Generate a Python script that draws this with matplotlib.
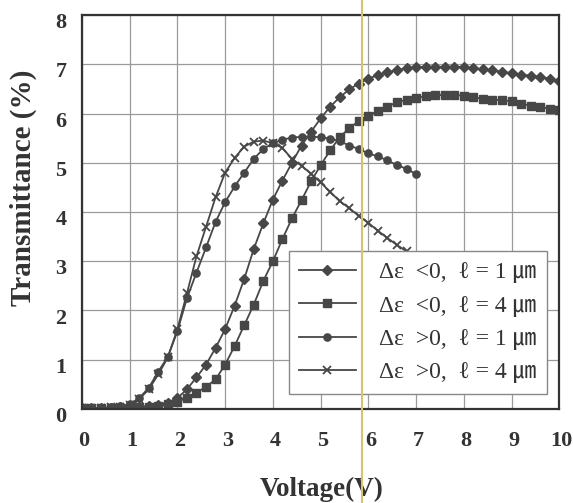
import matplotlib
matplotlib.use("Agg")
import matplotlib.pyplot as plt
from matplotlib.lines import Line2D
import matplotlib.transforms as mtransforms

plt.rcParams['font.family'] = ['Liberation Serif', 'DejaVu Serif', 'Noto Sans CJK JP']

volt_full = [0.0, 0.2, 0.4, 0.6, 0.8, 1.0, 1.2, 1.4, 1.6, 1.8,
             2.0, 2.2, 2.4, 2.6, 2.8, 3.0, 3.2, 3.4, 3.6, 3.8,
             4.0, 4.2, 4.4, 4.6, 4.8, 5.0, 5.2, 5.4, 5.6, 5.8,
             6.0, 6.2, 6.4, 6.6, 6.8, 7.0, 7.2, 7.4, 7.6, 7.8,
             8.0, 8.2, 8.4, 8.6, 8.8, 9.0, 9.2, 9.4, 9.6, 9.8, 10.0]
volt_short = [0.0, 0.2, 0.4, 0.6, 0.8, 1.0, 1.2, 1.4, 1.6, 1.8,
              2.0, 2.2, 2.4, 2.6, 2.8, 3.0, 3.2, 3.4, 3.6, 3.8,
              4.0, 4.2, 4.4, 4.6, 4.8, 5.0, 5.2, 5.4, 5.6, 5.8,
              6.0, 6.2, 6.4, 6.6, 6.8, 7.0]

neg_1um = [0.02, 0.02, 0.02, 0.02, 0.03, 0.03, 0.04, 0.05, 0.08, 0.13,
           0.22, 0.40, 0.64, 0.90, 1.24, 1.62, 2.10, 2.64, 3.25, 3.77,
           4.25, 4.64, 5.00, 5.35, 5.63, 5.90, 6.14, 6.33, 6.49, 6.61,
           6.71, 6.78, 6.84, 6.88, 6.92, 6.94, 6.95, 6.95, 6.95, 6.95,
           6.95, 6.92, 6.90, 6.88, 6.85, 6.82, 6.79, 6.77, 6.74, 6.71, 6.67]
neg_4um = [0.02, 0.02, 0.02, 0.02, 0.02, 0.03, 0.03, 0.04, 0.06, 0.10,
           0.15, 0.22, 0.33, 0.45, 0.60, 0.90, 1.28, 1.70, 2.12, 2.60,
           3.00, 3.45, 3.87, 4.24, 4.62, 4.95, 5.25, 5.52, 5.70, 5.85,
           5.96, 6.05, 6.14, 6.23, 6.28, 6.32, 6.35, 6.37, 6.38, 6.38,
           6.36, 6.33, 6.30, 6.28, 6.27, 6.25, 6.20, 6.16, 6.13, 6.10, 6.07]
pos_1um = [0.02, 0.02, 0.02, 0.03, 0.05, 0.10, 0.22, 0.43, 0.76, 1.06,
           1.58, 2.25, 2.77, 3.28, 3.80, 4.20, 4.52, 4.80, 5.08, 5.28,
           5.40, 5.47, 5.51, 5.53, 5.53, 5.52, 5.49, 5.44, 5.35, 5.28,
           5.19, 5.13, 5.05, 4.95, 4.88, 4.77]
pos_4um = [0.02, 0.02, 0.02, 0.03, 0.04, 0.08, 0.20, 0.40, 0.70, 1.05,
           1.62, 2.35, 3.10, 3.70, 4.30, 4.80, 5.10, 5.33, 5.43, 5.45,
           5.40, 5.30, 5.08, 4.94, 4.78, 4.60, 4.41, 4.22, 4.08, 3.92,
           3.78, 3.62, 3.47, 3.33, 3.20, 3.08]

labels = ['Δε  <0,  ℓ = 1 ㎛', 'Δε  <0,  ℓ = 4 ㎛',
          'Δε  >0,  ℓ = 1 ㎛', 'Δε  >0,  ℓ = 4 ㎛']
x_ticks = [0, 1, 2, 3, 4, 5, 6, 7, 8, 9, 10]
y_ticks = [0, 1, 2, 3, 4, 5, 6, 7, 8]

col = '#474747'
txt = '#333333'
fig = plt.figure(figsize=(5.73, 5.03), dpi=100)
ax = fig.add_axes([0.143, 0.187, 0.833, 0.783])

ax.plot(volt_full, neg_1um, color=col, lw=1.3, marker='D', ms=4.8, label=labels[0])
ax.plot(volt_full, neg_4um, color=col, lw=1.3, marker='s', ms=5.2, label=labels[1])
ax.plot(volt_short, pos_1um, color=col, lw=1.3, marker='o', ms=5.2, label=labels[2])
ax.plot(volt_short, pos_4um, color=col, lw=1.3, marker='x', ms=6, mew=1.3, label=labels[3])

ax.set_xlim(0, 10)
ax.set_ylim(0, 8)
ax.set_xticks(x_ticks)
ax.set_yticks(y_ticks)
ax.grid(True, color='#9a9a9a', lw=0.9)
ax.set_axisbelow(True)
ax.tick_params(length=0, labelsize=16)
ax.tick_params(axis='x', pad=16)
ax.tick_params(axis='y', pad=11)
for lab in ax.get_xticklabels() + ax.get_yticklabels():
    lab.set_fontweight('bold')
    lab.set_color(txt)
offy = mtransforms.ScaledTranslation(0, -4 / 72, fig.dpi_scale_trans)
for lab in ax.get_yticklabels():
    lab.set_transform(lab.get_transform() + offy)
offx = mtransforms.ScaledTranslation(1.5 / 72, 0, fig.dpi_scale_trans)
for lab in ax.get_xticklabels():
    lab.set_transform(lab.get_transform() + offx)
for s in ax.spines.values():
    s.set_linewidth(1.6)
    s.set_color('#333333')

ax.set_xlabel('Voltage(V)', fontsize=19.5, fontweight='bold', color=txt)
ax.xaxis.set_label_coords(0.503, -0.172)
ax.set_ylabel('Transmittance (%)', fontsize=21, fontweight='bold', color=txt)
ax.yaxis.set_label_coords(-0.094, 0.561)

leg = ax.legend(loc='lower right', bbox_to_anchor=(0.975, 0.038), borderaxespad=0,
                fontsize=17, numpoints=1, handlelength=2.4, handletextpad=1.0,
                labelspacing=0.5, fancybox=False, framealpha=1,
                edgecolor='#888888', borderpad=0.45)
for t in leg.get_texts():
    t.set_color(txt)

fig.add_artist(Line2D([361.5 / 573, 361.5 / 573], [0, 1], color='#d6c46a', lw=1.5,
                      transform=fig.transFigure))

fig.savefig('out.png', dpi=100)
